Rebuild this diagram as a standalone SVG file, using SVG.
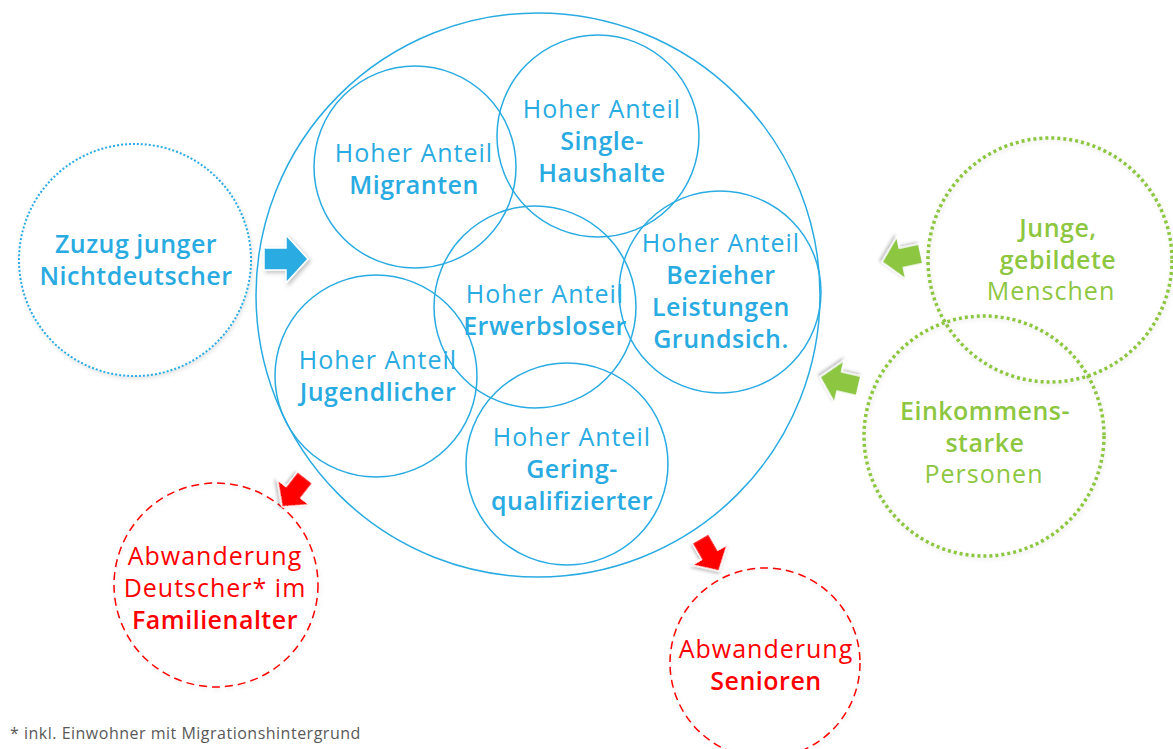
<svg xmlns="http://www.w3.org/2000/svg" width="1173" height="749" viewBox="0 0 1173 749">
<defs>
<filter id="sh" x="-20%" y="-20%" width="140%" height="140%">
<feDropShadow dx="2" dy="2" stdDeviation="2" flood-color="#000" flood-opacity="0.25"/>
</filter>
<filter id="csh" x="-10%" y="-10%" width="120%" height="120%">
<feDropShadow dx="1" dy="2" stdDeviation="2" flood-color="#000" flood-opacity="0.12"/>
</filter>
<polygon id="arr" points="0,0 -22,-24 -22,-11 -44,-11 -44,11 -22,11 -22,24"/>
</defs>
<style>
text{font-family:"Open Sans","Liberation Sans",sans-serif;font-size:25px;text-anchor:middle}
.b{fill:#29abe2}
.g{fill:#8dc63f}
.r{fill:#ff0000}
.l{font-weight:400;letter-spacing:1px}
.bd{font-weight:600;letter-spacing:0.5px}
.inner{fill:none;stroke:#29abe2;stroke-width:1.5}
.arrow{stroke:#fff;stroke-width:1.5;filter:url(#sh)}
</style>
<rect width="1173" height="749" fill="#fff"/>

<g id="gesamt"><circle class="inner" cx="538" cy="295" r="282"/></g>

<g id="zuzug">
<circle cx="135" cy="260" r="116" fill="#fff" stroke="#29abe2" stroke-width="2" stroke-dasharray="2 2" filter="url(#csh)"/>
<text class="b bd" x="136" y="253">Zuzug junger</text>
<text class="b bd" x="136" y="285">Nichtdeutscher</text>
</g>

<g id="migranten">
<circle class="inner" cx="415" cy="167" r="101"/>
<text class="b l" x="414" y="162">Hoher Anteil</text>
<text class="b bd" x="414" y="194">Migranten</text>
</g>
<g id="single">
<circle class="inner" cx="598" cy="136" r="101"/>
<text class="b l" x="602" y="118">Hoher Anteil</text>
<text class="b bd" x="602" y="150">Single-</text>
<text class="b bd" x="602" y="182">Haushalte</text>
</g>
<g id="erwerbslose">
<circle class="inner" cx="535" cy="307" r="101"/>
<text class="b l" x="545" y="303">Hoher Anteil</text>
<text class="b bd" x="545" y="335">Erwerbsloser</text>
</g>
<g id="bezieher">
<circle class="inner" cx="720" cy="292" r="101"/>
<text class="b l" x="721" y="252">Hoher Anteil</text>
<text class="b bd" x="721" y="284">Bezieher</text>
<text class="b bd" x="721" y="316">Leistungen</text>
<text class="b bd" x="721" y="348">Grundsich.</text>
</g>
<g id="jugendliche">
<circle class="inner" cx="376" cy="376" r="101"/>
<text class="b l" x="378" y="369">Hoher Anteil</text>
<text class="b bd" x="378" y="401">Jugendlicher</text>
</g>
<g id="gering">
<circle class="inner" cx="567" cy="464" r="101"/>
<text class="b l" x="572" y="446">Hoher Anteil</text>
<text class="b bd" x="572" y="478">Gering-</text>
<text class="b bd" x="572" y="510">qualifizierter</text>
</g>

<g id="junge">
<circle cx="1050" cy="260" r="122" fill="none" stroke="#8dc63f" stroke-width="3.5" stroke-dasharray="3 3" filter="url(#csh)"/>
<text class="g bd" x="1058" y="237">Junge,</text>
<text class="g bd" x="1058" y="269">gebildete</text>
<text class="g l" x="1051" y="300">Menschen</text>
</g>
<g id="einkommen">
<circle cx="984" cy="436" r="120" fill="none" stroke="#8dc63f" stroke-width="3.5" stroke-dasharray="3 3" filter="url(#csh)"/>
<text class="g bd" x="985" y="420">Einkommens-</text>
<text class="g bd" x="985" y="452">starke</text>
<text class="g l" x="984" y="483">Personen</text>
</g>

<g id="abw-familie">
<circle cx="216" cy="585" r="102" fill="none" stroke="#ff0000" stroke-width="1.5" stroke-dasharray="8 5" filter="url(#csh)"/>
<text class="r l" x="215" y="565">Abwanderung</text>
<text class="r l" x="215" y="597">Deutscher* im</text>
<text class="r bd" x="215" y="629">Familienalter</text>
</g>
<g id="abw-senioren">
<circle cx="765" cy="663" r="95" fill="none" stroke="#ff0000" stroke-width="1.5" stroke-dasharray="8 5" filter="url(#csh)"/>
<text class="r l" x="766" y="658">Abwanderung</text>
<text class="r bd" x="766" y="690">Senioren</text>
</g>

<g id="connectors">
<use href="#arr" class="arrow" fill="#29abe2" transform="translate(308,259)"/>
<use href="#arr" class="arrow" fill="#8dc63f" transform="translate(882,262) rotate(168) scale(0.9)"/>
<use href="#arr" class="arrow" fill="#8dc63f" transform="translate(820,377) rotate(193) scale(0.9)"/>
<use href="#arr" class="arrow" fill="#ff0000" transform="translate(282,507) rotate(128) scale(0.85)"/>
<use href="#arr" class="arrow" fill="#ff0000" transform="translate(719,571) rotate(60) scale(0.85)"/>
</g>

<text x="10" y="739" style="font-size:16px;text-anchor:start;fill:#595959;letter-spacing:0.5px">* inkl. Einwohner mit Migrationshintergrund</text>
</svg>
